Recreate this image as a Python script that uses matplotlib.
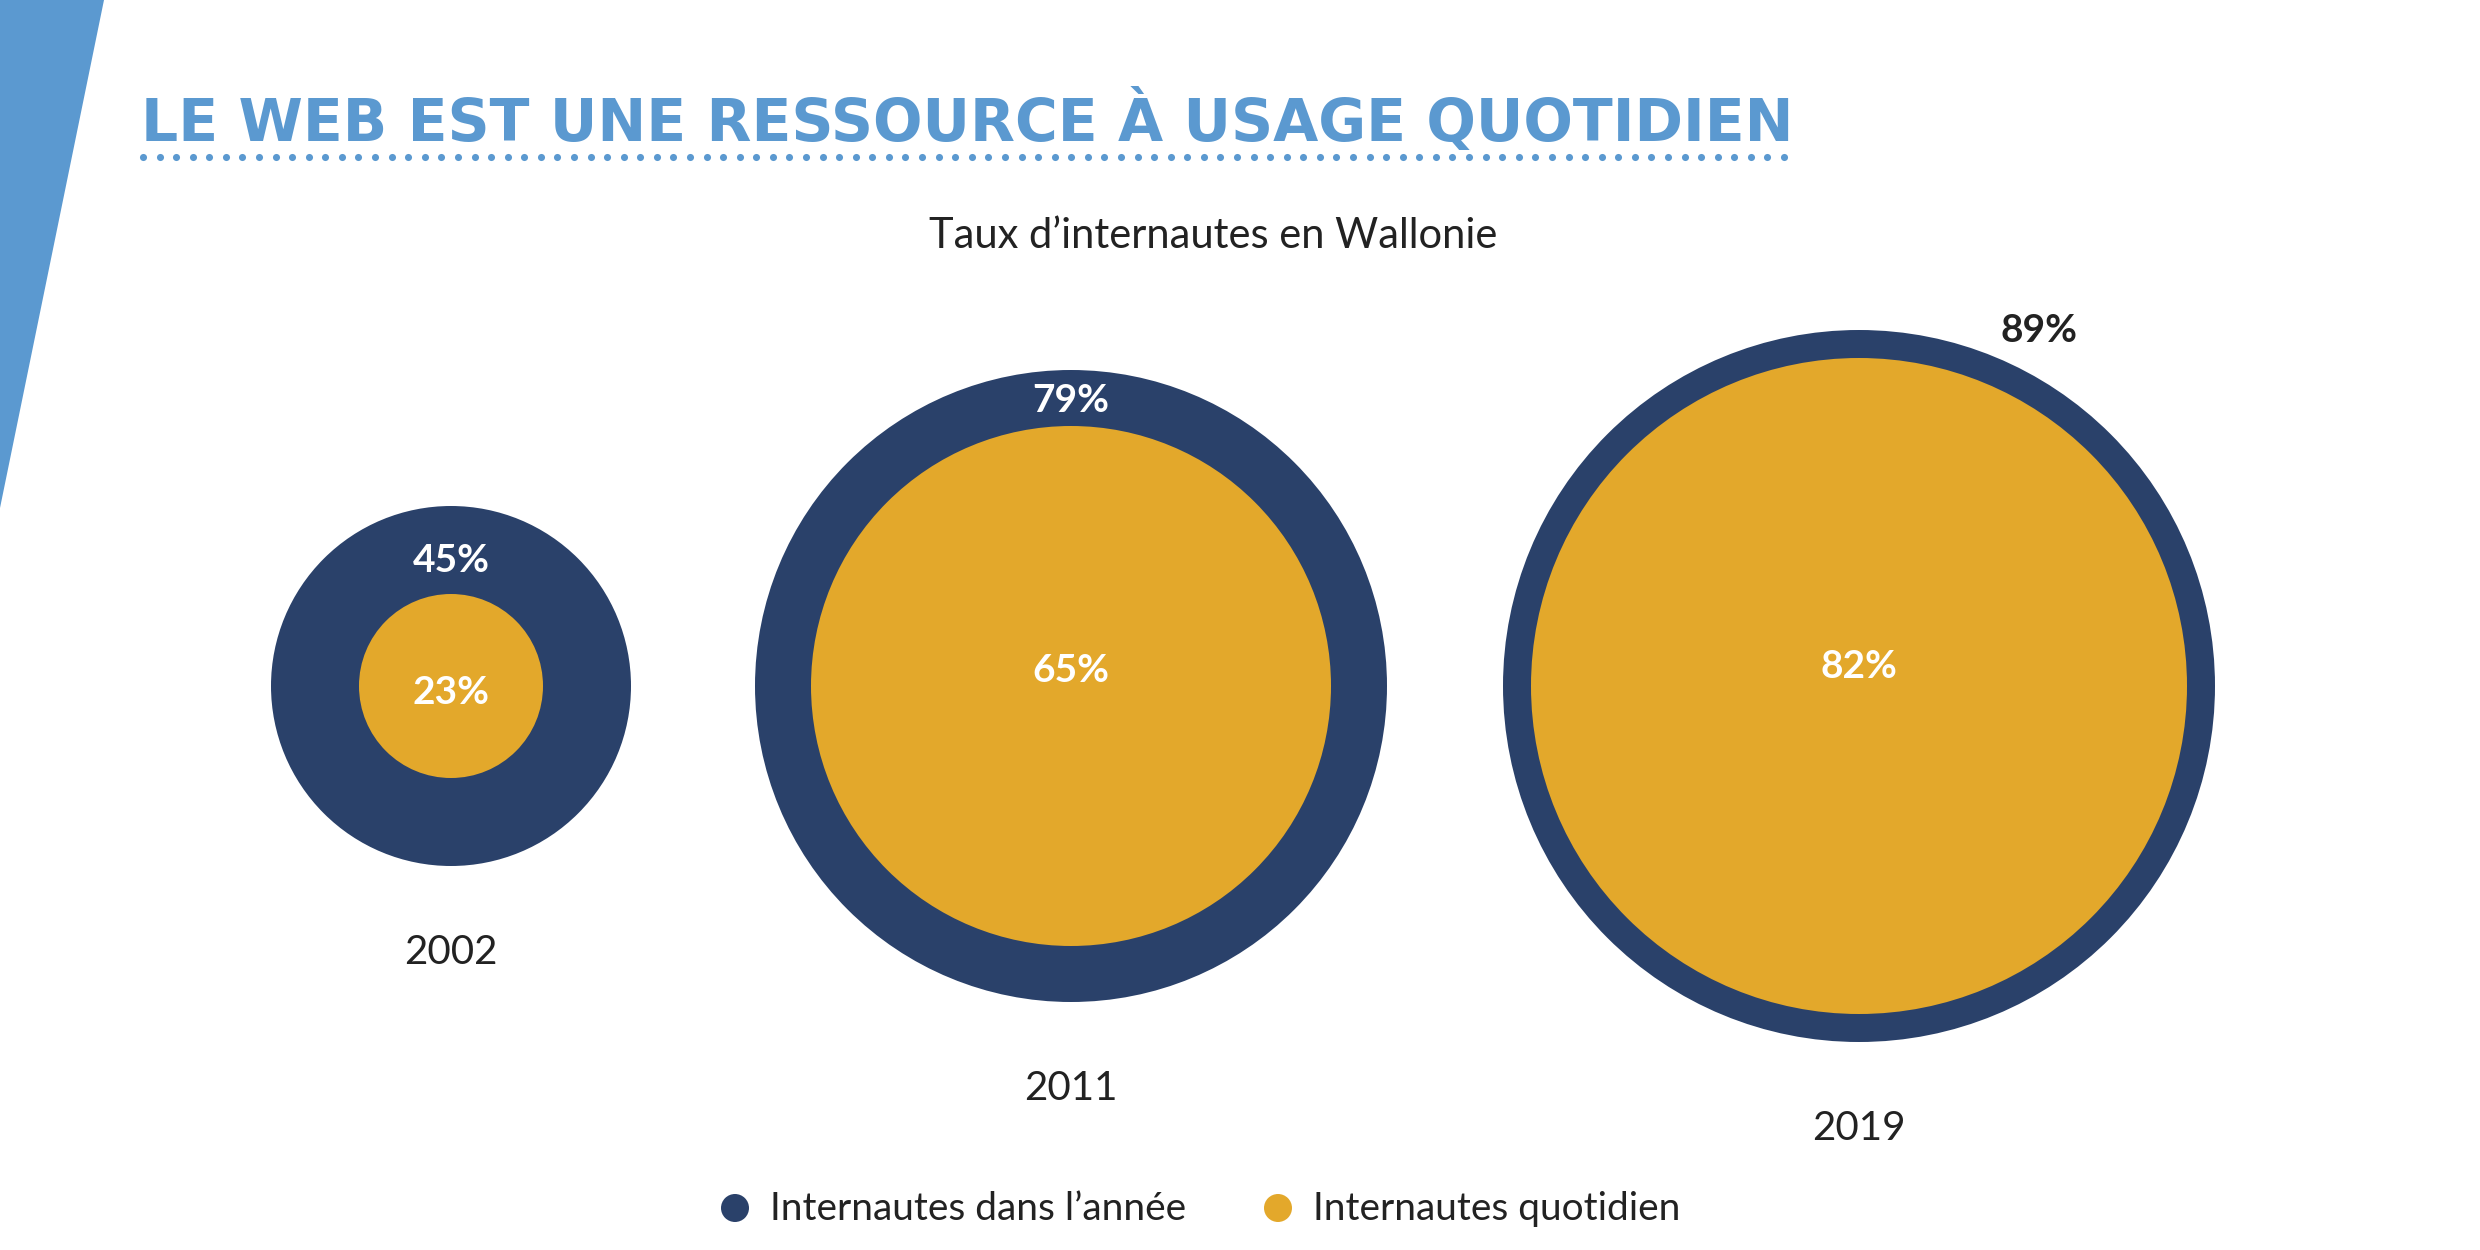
import matplotlib
matplotlib.use("Agg")
import matplotlib.pyplot as plt
import numpy as np
from matplotlib.patches import Circle, Polygon

plt.rcParams['font.family'] = ['Lato', 'DejaVu Sans']

# data
years = ['2002', '2011', '2019']
annual = [45, 79, 89]      # internautes dans l'année (%)
daily = [23, 65, 82]       # internautes quotidiens (%)
series_names = ["Internautes dans l\u2019année", "Internautes quotidien"]

title = "LE WEB EST UNE RESSOURCE À USAGE QUOTIDIEN"
subtitle = "Taux d\u2019internautes en Wallonie"

# layout (pixels)
navy = "#2a416a"
gold = "#e3a82b"
blue = "#5b99d0"
dark = "#222222"
px_per_pct = 4.0
cx = [451, 1071, 1859]
cy = 686
inner_dy = [6, -16, -20]
outer_dy = [10, 2, 0]

fig = plt.figure(figsize=(24.8, 12.5), dpi=100)
ax = fig.add_axes([0, 0, 1, 1])
ax.set_xlim(0, 2480)
ax.set_ylim(1250, 0)
ax.axis('off')

# corner decoration
ax.add_patch(Polygon([(0, 0), (104, 0), (0, 508)], closed=True, color=blue, lw=0))

# title + dotted underline
ax.text(141, 141, title, fontsize=42, fontweight='bold', color=blue,
        ha='left', va='baseline', family='DejaVu Sans')
dots_x = np.linspace(143, 1784, 100)
ax.scatter(dots_x, np.full_like(dots_x, 157), s=26, color=blue, lw=0)

ax.text(1213, 236, subtitle, fontsize=30, color=dark,
        ha='center', va='center')

for i in range(len(years)):
    r_out = annual[i] * px_per_pct
    r_in = daily[i] * px_per_pct
    ax.add_patch(Circle((cx[i], cy), r_out, color=navy, lw=0))
    ax.add_patch(Circle((cx[i], cy), r_in, color=gold, lw=0))
    ax.text(cx[i], cy + inner_dy[i], f"{daily[i]}%", fontsize=28, fontweight='bold',
            color='white', ha='center', va='center')
    if r_out - r_in > 50:
        ax.text(cx[i], cy - (r_out + r_in) / 2 + outer_dy[i], f"{annual[i]}%", fontsize=28,
                fontweight='bold', color='white', ha='center', va='center')
    else:
        ax.text(cx[i] + 180, cy - r_out + 1, f"{annual[i]}%", fontsize=28,
                fontweight='bold', color=dark, ha='center', va='center')
    ax.text(cx[i], cy + r_out + 86, years[i], fontsize=29, color=dark,
            ha='center', va='center')

# legend
leg_x = [735, 1278]
for x, c, name in zip(leg_x, [navy, gold], series_names):
    ax.add_patch(Circle((x, 1208), 14, color=c, lw=0))
    ax.text(x + 35, 1209, name, fontsize=28, color=dark,
            ha='left', va='center')

fig.savefig("out.png", dpi=100, facecolor='white')
